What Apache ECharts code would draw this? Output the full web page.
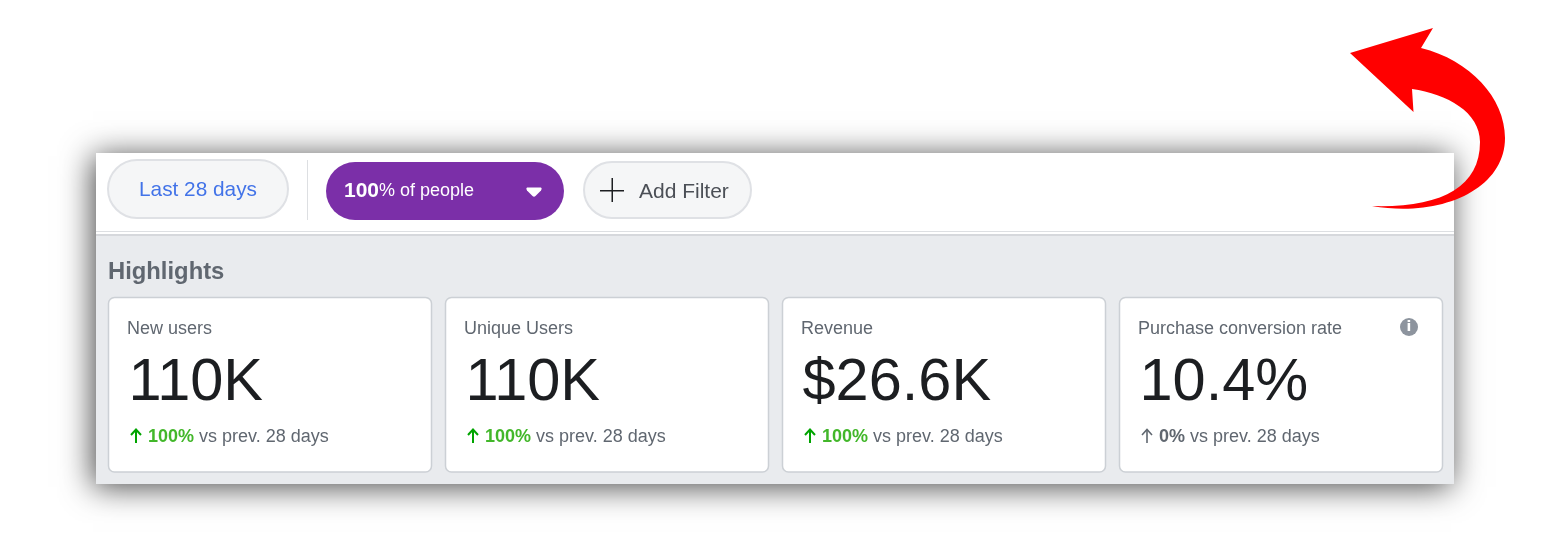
<!DOCTYPE html>
<html><head><meta charset="utf-8">
<style>html,body{margin:0;padding:0;background:#fff}#c{width:1558px;height:534px}</style>
<script src="https://cdn.jsdelivr.net/npm/echarts@6/dist/echarts.min.js"></script>
</head><body><div id="c"></div>
<script>
const cardTitles = ['New users','Unique Users','Revenue','Purchase conversion rate'];
const cardValues = ['110K','110K','$26.6K','10.4%'];
const cardDeltas = ['100%','100%','100%','0%'];
const cardDeltaUp = [true,true,true,false];
const deltaSuffix = 'vs prev. 28 days';
const sectionTitle = 'Highlights';
const dateLabel = 'Last 28 days';
const peopleShare = '100';
const peopleSuffix = 'of people';
const filterLabel = 'Add Filter';

echarts.graphic.registerShape('bigArrow', echarts.graphic.extendPath('M1350 53 L1433 28 L1421 48 C1470 60 1505 98 1505 138 C1505 190 1440 218 1372 206 C1440 208 1480 188 1480 142 C1480 112 1447 94 1412 89 L1413.5 112 Z', {}));
echarts.graphic.registerShape('caret', echarts.graphic.extendPath('M527 187.5 L541 187.5 Q542.5 188.5 541 190.5 L535.5 196 Q534 197.5 532.5 196 L527 190.5 Q525.5 188.5 527 187.5 Z', {}));

const FF = '"Liberation Sans", Arial, sans-serif';
const g = [];
const rect = (x,y,w,h,style,r,z)=>g.push({type:'rect',shape:{x,y,width:w,height:h,r:r||0},style,z:z||1,silent:true});
const text = (x,y,t,font,fill,extra)=>g.push({type:'text',x,y,z:5,silent:true,style:Object.assign({text:t,font:font+' '+FF,fill,textVerticalAlign:'middle',textBaseline:'middle'},extra||{})});

// panel
rect(96,153,1358,331,{fill:'#fff',shadowBlur:30,shadowColor:'rgba(0,0,0,0.72)',shadowOffsetX:-3,shadowOffsetY:3},0,1);
rect(96,235,1358,249,{fill:'#e9ebee'},0,2);
rect(96,231,1358,1,{fill:'#dddfe2'},0,2);
rect(96,234,1358,2,{fill:'#d6d8dc'},0,2);

// arrow
g.push({type:'bigArrow',z:6,silent:true,shape:{},style:{fill:'#ff0000'}});

// filter bar
rect(108,160,180,58,{fill:'#f5f6f7',stroke:'#dfe1e5',lineWidth:2},29,3);
text(198,190,dateLabel,'20.8px','#4273e8',{align:'center',textAlign:'center'});
rect(307,160,1,60,{fill:'#dddfe2'},0,3);
rect(326,162,238,58,{fill:'#7b2fa8'},29,3);
g.push({type:'text',x:344,y:191,z:5,silent:true,style:{text:'{a|'+peopleShare+'}{b|% '+peopleSuffix+'}',fill:'#fff',textBaseline:'middle',verticalAlign:'middle',rich:{a:{font:'bold 21px '+FF,fill:'#fff'},b:{font:'18px '+FF,fill:'#fff'}}}});
g.push({type:'caret',z:5,silent:true,shape:{},style:{fill:'#fff'}});
rect(584,162,167,56,{fill:'#f5f6f7',stroke:'#dfe1e5',lineWidth:2},28,3);
rect(600,190,24,1.5,{fill:'#1c1e21'},0,4);
rect(611.5,178,1.5,24,{fill:'#1c1e21'},0,4);
text(639,192,filterLabel,'21px','#4b4f56');

// highlights
text(108,272,sectionTitle,'bold 23.8px','#606770');

const cardX = [108,445,782,1119];
cardTitles.forEach((t,i)=>{
  const x = cardX[i];
  rect(x+0.5,297.5,323,174.5,{fill:'#fff',stroke:'#ccd0d5',lineWidth:1.5},6,3);
  text(x+19,329,t,'18px','#606770');
  text(x+20.5,384,cardValues[i],'59.5px','#1c1e21');
  const up = cardDeltaUp[i];
  const col = up?'#42b72a':'#606770';
  const arrowCol = up?'#00a400':'#606770';
  // arrow icon
  g.push({type:'line',z:5,silent:true,shape:{x1:x+28,y1:430,x2:x+28,y2:443},style:{stroke:arrowCol,lineWidth:up?2:1.6}});
  g.push({type:'polyline',z:5,silent:true,shape:{points:[[x+23,435],[x+28,429.5],[x+33,435]]},style:{stroke:arrowCol,fill:null,lineWidth:up?2:1.6}});
  g.push({type:'text',x:x+40,y:437,z:5,silent:true,style:{
    text:'{d|'+cardDeltas[i]+'}{s| '+deltaSuffix+'}',fill:'#606770',textBaseline:'middle',verticalAlign:'middle',
    rich:{d:{font:'bold 18px '+FF,fill:col},s:{font:'18px '+FF,fill:'#606770'}}}});
});
// info icon
g.push({type:'circle',z:5,silent:true,shape:{cx:1409,cy:327,r:9},style:{fill:'#8d949e'}});
g.push({type:'text',x:1409,y:327.5,z:6,silent:true,style:{text:'i',font:'bold 14px "DejaVu Sans"',fill:'#fff',align:'center',verticalAlign:'middle',textAlign:'center',textBaseline:'middle'}});

const chart = echarts.init(document.getElementById('c'),null,{renderer:'canvas'});
chart.setOption({animation:false,backgroundColor:'#fff',graphic:{elements:g}});
</script></body></html>
